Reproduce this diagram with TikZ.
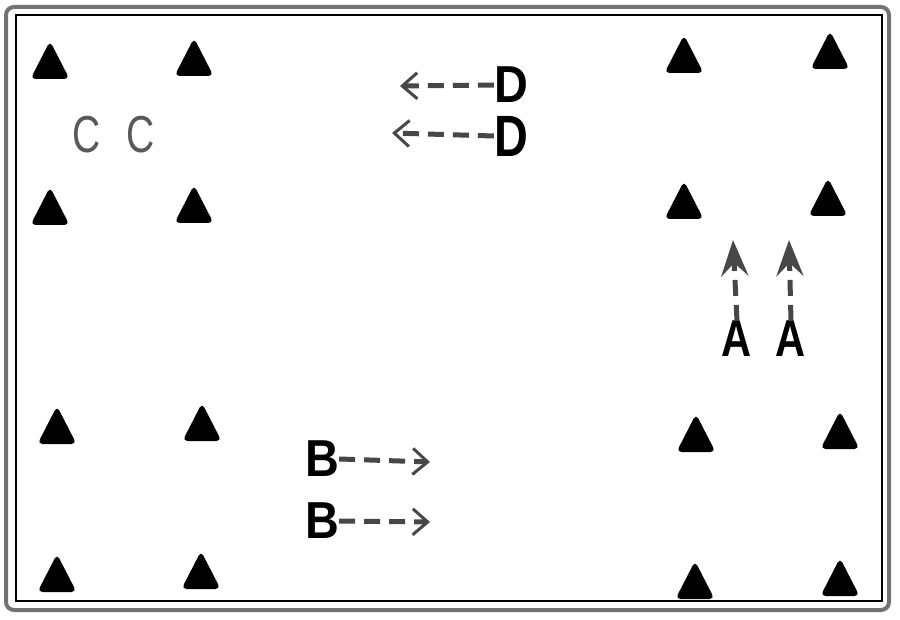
\documentclass[tikz,border=0pt]{standalone}
\usepackage{fontspec}
\setmainfont{Liberation Sans}
\usetikzlibrary{arrows.meta}
\tikzset{
  cone/.pic={\fill[black,rounded corners=5pt] (-19.5,19) -- (0,-19) -- (19.5,19) -- cycle;},
  letter/.style={inner sep=0pt,font=\fontsize{52}{52}\selectfont\bfseries,text=black},
  cletter/.style={inner sep=0pt,font=\fontsize{52}{52}\selectfont,text=black!65,xscale=0.75},
  dasharrow/.style={draw=black!72,line width=5pt,dash pattern=on 16pt off 9pt},
  barb/.style={-{Straight Barb[length=15pt,width=26pt,line width=3pt]}},
  bigtip/.style={-{Stealth[length=36pt,width=27pt,inset=13pt]}}
}
\begin{document}
\begin{tikzpicture}[x=1pt,y=-1pt]
\useasboundingbox (0,0) rectangle (900,620);
\fill[white] (0,0) rectangle (900,620);
% frame
\draw[black!55,line width=4pt,rounded corners=8pt] (6,7) rectangle (889,610);
\draw[black,line width=2.5pt] (16,15) rectangle (882,601);
% cones
\foreach \x/\y in {50/60,194/57,50/206,194/204,
                   684/54,830/50,684/200,828/197,
                   696/433,840/430,695/580,840/577,
                   57/425,202/422,57/573,201/570}
  \pic at (\x,\y) {cone};
% C
\node[cletter] (c1) at (87,135) {C};
\node[cletter] (c2) at (141,135) {C};
% D
\node[letter,xscale=0.9] (d1) at (511,85) {D};
\node[letter,xscale=0.9,yscale=1.12] (d2) at (511,136) {D};
\coordinate (d1t) at (400,86);
\coordinate (d2t) at (392,133);
\draw[dasharrow,barb] (d1.west) -- (d1t);
\draw[dasharrow,barb] (d2.west) -- (d2t);
% A
\node[letter,xscale=0.8] (a1) at (737,339) {A};
\node[letter,xscale=0.8] (a2) at (791,339) {A};
\coordinate (a1t) at (733,240);
\coordinate (a2t) at (789,240);
\draw[dasharrow,bigtip] (a1.north) -- (a1t);
\draw[dasharrow,bigtip] (a2.north) -- (a2t);
% B
\node[letter,xscale=0.9] (b1) at (322,459) {B};
\node[letter,xscale=0.9] (b2) at (322,521) {B};
\coordinate (b1t) at (430,462);
\coordinate (b2t) at (430,522);
\draw[dasharrow,barb] (b1.east) -- (b1t);
\draw[dasharrow,barb] (b2.east) -- (b2t);
\end{tikzpicture}
\end{document}
